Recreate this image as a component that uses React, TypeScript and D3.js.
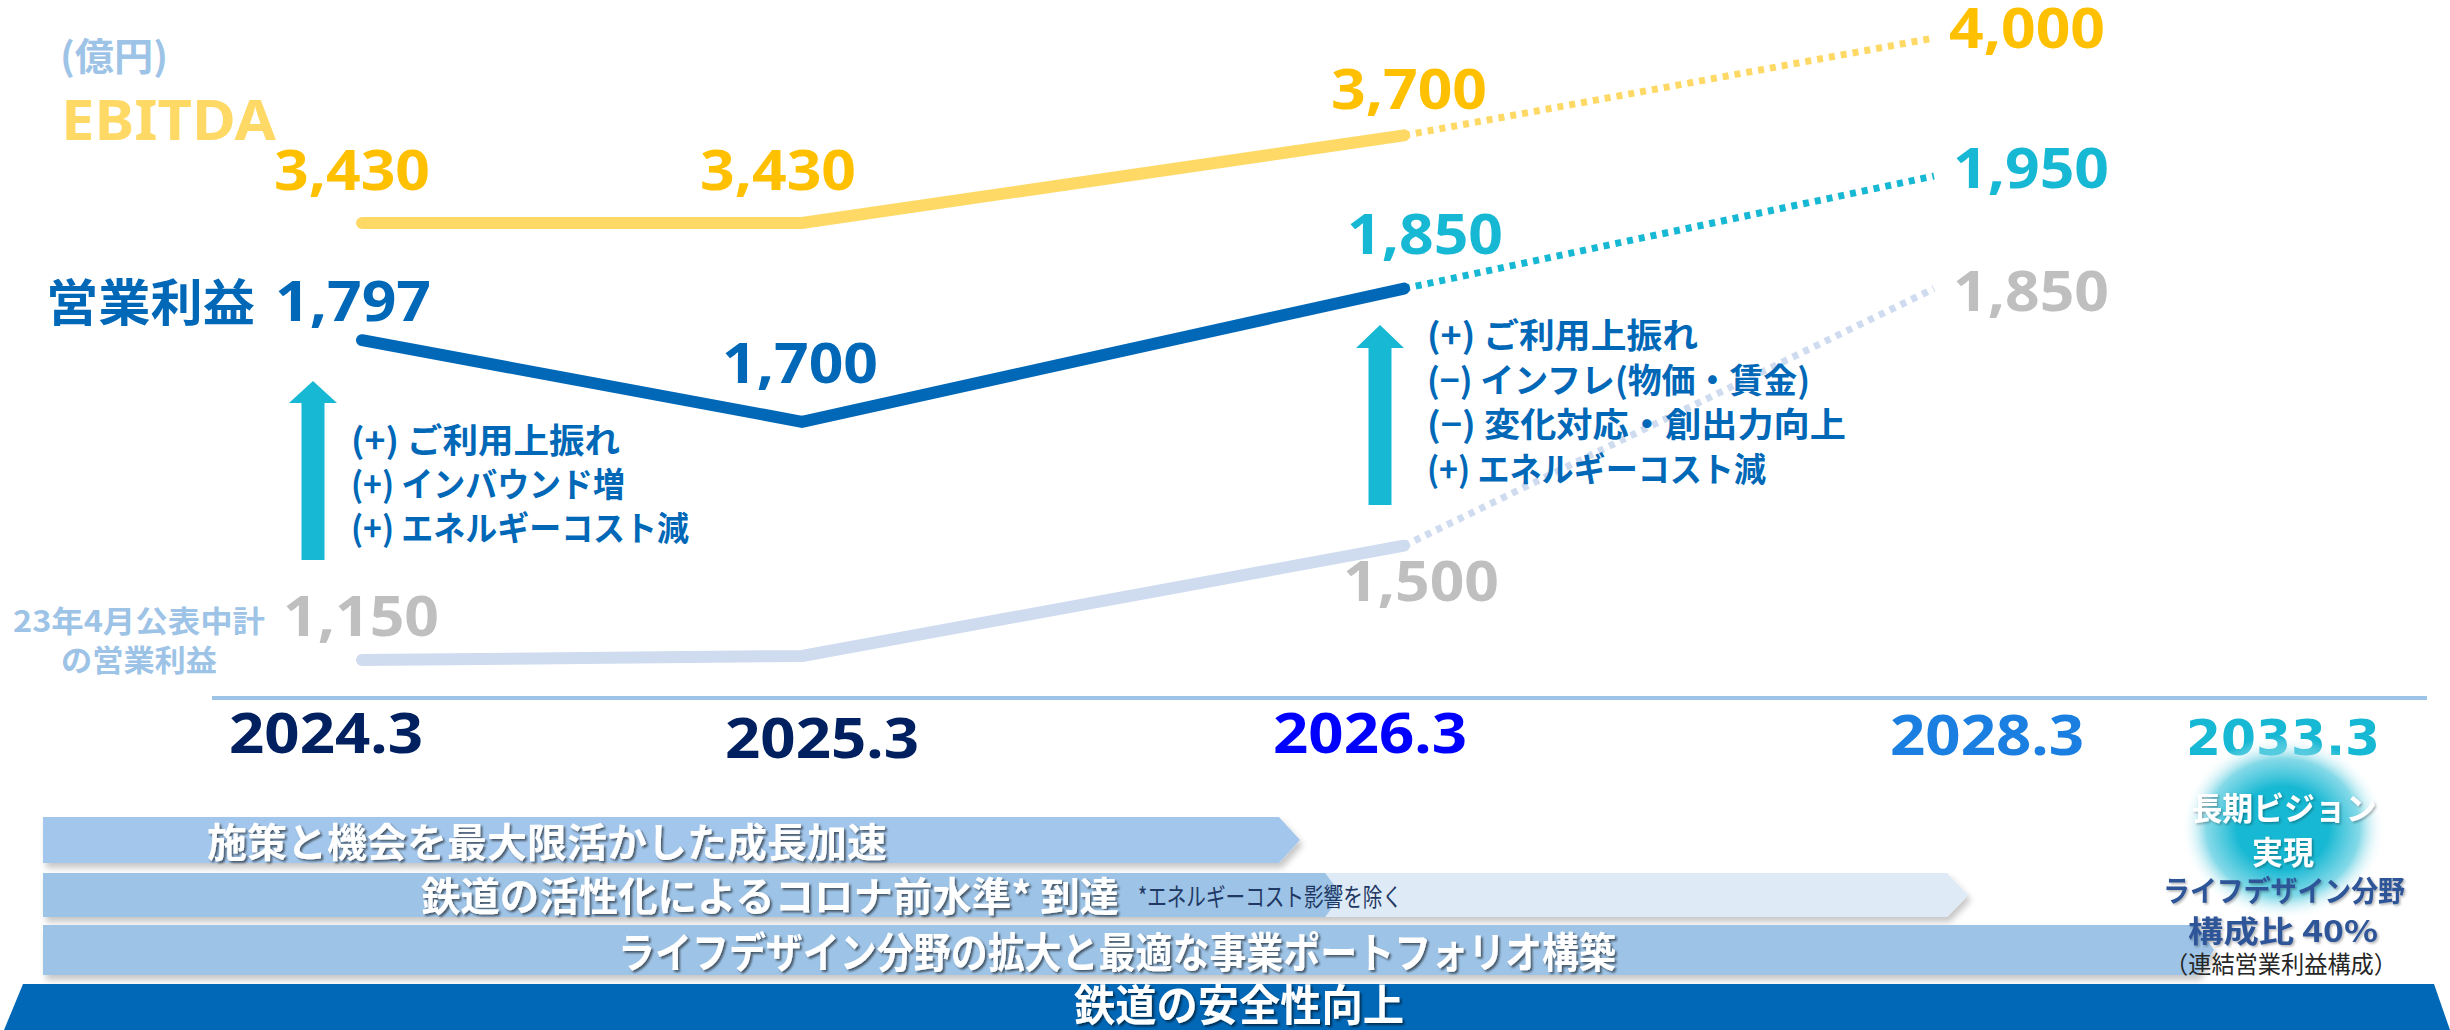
import React from "react";
import * as d3 from "d3";

// ---------- data ----------
const categories = ["2024.3", "2025.3", "2026.3", "2028.3", "2033.3"];
const ebitdaValues = [3430, 3430, 3700, 4000];
const operatingValues = [1797, 1700, 1850, 1950];
const planValues = [1150, 1170, 1500, 1850];
const planLabelled = [true, false, true, true];
const leftFactors = ["(+) ご利用上振れ", "(+) インバウンド増", "(+) エネルギーコスト減"];
const rightFactors = ["(+) ご利用上振れ", "(−) インフレ(物価・賃金)", "(−) 変化対応・創出力向上", "(+) エネルギーコスト減"];
const strategyTexts = [
  "施策と機会を最大限活かした成長加速",
  "鉄道の活性化によるコロナ前水準* 到達",
  "ライフデザイン分野の拡大と最適な事業ポートフォリオ構築",
  "鉄道の安全性向上",
];
const strategyNote = "*エネルギーコスト影響を除く";
const visionTexts = ["長期ビジョン", "実現", "ライフデザイン分野", "構成比  40%", "（連結営業利益構成）"];
const unitLabel = "(億円)";
const ebitdaName = "EBITDA";
const operatingName = "営業利益";
const planName = ["23年4月公表中計", "の営業利益"];

// ---------- styling ----------
const JP = "'Noto Sans CJK JP', 'Noto Sans', sans-serif";
const NUM = "'Noto Sans', 'DejaVu Sans', sans-serif";
const C = {
  ebitdaLine: "#FFD966",
  ebitdaText: "#FFC000",
  op: "#0068B7",
  cyan: "#17B8D3",
  planLine: "#CFDCEF",
  planText: "#BFBFBF",
  lightBlue: "#9DC3E6",
  navy: "#002060",
};

const W = 2450;
const H = 1030;

const fmt = d3.format(",");

export default function App() {
  const pointCats = categories.slice(0, 4);
  const x = d3.scaleOrdinal<string, number>().domain(pointCats).range([362, 802, 1404, 1934]);
  const xLabel = d3.scaleOrdinal<string, number>().domain(categories).range([326, 822, 1370, 1987, 2283]);
  const yE = d3.scaleLinear().domain([3430, 4000]).range([223, 38]);
  const yP = d3.scalePow().exponent(4.5).domain([1150, 1950]).range([660, 176]);

  const mk = (vals: number[], ys: (v: number) => number) =>
    vals.map((v, i) => [x(pointCats[i]) as number, ys(v)] as [number, number]);
  const line = d3.line();

  const eP = mk(ebitdaValues, yE);
  const oP = mk(operatingValues, yP);
  const pP = mk(planValues, yP);

  const axisColors = [C.navy, C.navy, "#0000FF", "#1A7FE0", C.cyan];
  const axisBase = [753, 758, 753, 755, 755];

  const eLab = [
    { dx: -10, dy: -33, a: "middle" },
    { dx: -24, dy: -33, a: "middle" },
    { dx: 5, dy: -26, a: "middle" },
    { dx: 15, dy: 10, a: "start" },
  ];
  const oLab = [
    { dx: 69, dy: -19, a: "end", c: C.op },
    { dx: -2, dy: -39, a: "middle", c: C.op },
    { dx: 21, dy: -35, a: "middle", c: C.cyan },
    { dx: 19, dy: 12, a: "start", c: C.cyan },
  ];
  const pLab = [
    { dx: -1, dy: -24, a: "middle" },
    { dx: 0, dy: 0, a: "middle" },
    { dx: 17, dy: 55, a: "middle" },
    { dx: 19, dy: 22, a: "start" },
  ];

  const numText = (key: string, px: number, py: number, v: number, anchor: string, color: string) => (
    <text
      key={key}
      x={px}
      y={py}
      textAnchor={anchor as any}
      fill={color}
      fontFamily={NUM}
      fontWeight={700}
      fontSize={56}
      textLength={156}
      lengthAdjust="spacingAndGlyphs"
    >
      {fmt(v)}
    </text>
  );

  const arrow = (cx: number, tip: number, headBase: number, bottom: number) => {
    const hw = 24, sw = 11.5;
    return `M${cx},${tip} L${cx + hw},${headBase} L${cx + sw},${headBase} L${cx + sw},${bottom} L${cx - sw},${bottom} L${cx - sw},${headBase} L${cx - hw},${headBase} Z`;
  };

  const leftW = [269, 274, 338];
  const rightW = [271, 383, 419, 339];

  return (
    <svg width={W} height={H} style={{ position: "absolute", left: 0, top: 0, background: "#fff" }}>
      <defs>
        <filter id="barShadow" x="-5%" y="-30%" width="110%" height="180%">
          <feDropShadow dx="3" dy="5" stdDeviation="3" floodColor="#000" floodOpacity="0.22" />
        </filter>
        <filter id="txtShadow" x="-5%" y="-30%" width="110%" height="180%">
          <feDropShadow dx="2" dy="2" stdDeviation="1" floodColor="#000" floodOpacity="0.55" />
        </filter>
        <filter id="softShadow" x="-5%" y="-30%" width="110%" height="180%">
          <feDropShadow dx="1.5" dy="1.5" stdDeviation="1" floodColor="#000" floodOpacity="0.3" />
        </filter>
        <radialGradient id="visionGrad" cx="50%" cy="50%" r="50%">
          <stop offset="0%" stopColor="#17B8D3" stopOpacity="1" />
          <stop offset="45%" stopColor="#17B8D3" stopOpacity="1" />
          <stop offset="75%" stopColor="#5ACCE0" stopOpacity="0.75" />
          <stop offset="100%" stopColor="#FFFFFF" stopOpacity="0" />
        </radialGradient>
      </defs>
      <rect width={W} height={H} fill="#fff" />

      {/* header labels */}
      <text x={60} y={70} fill={C.lightBlue} fontFamily={JP} fontWeight={700} fontSize={38} textLength={108} lengthAdjust="spacingAndGlyphs">{unitLabel}</text>
      <text x={61} y={140} fill={C.ebitdaLine} fontFamily={NUM} fontWeight={700} fontSize={55} textLength={215} lengthAdjust="spacingAndGlyphs">{ebitdaName}</text>

      {/* axis line */}
      <line x1={212} x2={2427} y1={698} y2={698} stroke={C.lightBlue} strokeWidth={4} />

      {/* plan line */}
      <path d={line(pP.slice(0, 3)) || ""} fill="none" stroke={C.planLine} strokeWidth={12} strokeLinecap="round" strokeLinejoin="round" />
      <path d={line(pP.slice(2)) || ""} fill="none" stroke={C.planLine} strokeWidth={7} strokeDasharray="6 6" />

      {/* EBITDA line */}
      <path d={line(eP.slice(0, 3)) || ""} fill="none" stroke={C.ebitdaLine} strokeWidth={12} strokeLinecap="round" strokeLinejoin="miter" />
      <path d={line(eP.slice(2)) || ""} fill="none" stroke={C.ebitdaLine} strokeWidth={7} strokeDasharray="6 6" />

      {/* operating profit line */}
      <path d={line(oP.slice(2)) || ""} fill="none" stroke={C.cyan} strokeWidth={7} strokeDasharray="6 6" />
      <path d={line(oP.slice(0, 3)) || ""} fill="none" stroke={C.op} strokeWidth={12} strokeLinecap="round" strokeLinejoin="miter" />

      {/* value labels */}
      {eP.map((p, i) => numText(`e${i}`, p[0] + eLab[i].dx, p[1] + eLab[i].dy, ebitdaValues[i], eLab[i].a, C.ebitdaText))}
      {oP.map((p, i) => numText(`o${i}`, p[0] + oLab[i].dx, p[1] + oLab[i].dy, operatingValues[i], oLab[i].a, oLab[i].c))}
      {pP.map((p, i) => (planLabelled[i] ? numText(`p${i}`, p[0] + pLab[i].dx, p[1] + pLab[i].dy, planValues[i], pLab[i].a, C.planText) : null))}

      {/* series names */}
      <text x={oP[0][0] + oLab[0].dx - 176} y={oP[0][1] + oLab[0].dy} textAnchor="end" fill={C.op} fontFamily={JP} fontWeight={700} fontSize={50} textLength={209} lengthAdjust="spacingAndGlyphs">{operatingName}</text>
      <text x={139} y={632} textAnchor="middle" fill={C.lightBlue} fontFamily={JP} fontWeight={700} fontSize={30} textLength={252} lengthAdjust="spacingAndGlyphs">{planName[0]}</text>
      <text x={139} y={671} textAnchor="middle" fill={C.lightBlue} fontFamily={JP} fontWeight={700} fontSize={30} textLength={156} lengthAdjust="spacingAndGlyphs">{planName[1]}</text>

      {/* arrows */}
      <path d={arrow(313, 381, 403, 560)} fill={C.cyan} />
      <path d={arrow(1380, 325, 348, 505)} fill={C.cyan} />

      {/* factor bullets */}
      {leftFactors.map((t, i) => (
        <text key={`lf${i}`} x={351} y={453 + i * 44} fill={C.op} fontFamily={JP} fontWeight={700} fontSize={34} textLength={leftW[i]} lengthAdjust="spacingAndGlyphs">{t}</text>
      ))}
      {rightFactors.map((t, i) => (
        <text key={`rf${i}`} x={1427} y={348 + i * 44.5} fill={C.op} fontFamily={JP} fontWeight={700} fontSize={34} textLength={rightW[i]} lengthAdjust="spacingAndGlyphs">{t}</text>
      ))}

      {/* axis labels */}
      {categories.map((c, i) => (
        <text
          key={`ax${i}`}
          x={xLabel(c)}
          y={axisBase[i]}
          textAnchor="middle"
          fill={axisColors[i]}
          fontFamily={i === 4 ? "'DejaVu Sans', sans-serif" : NUM}
          fontWeight={700}
          fontSize={i === 4 ? 50 : 56}
          textLength={194}
          lengthAdjust="spacingAndGlyphs"
        >
          {c}
        </text>
      ))}

      {/* strategy bars */}
      <g filter="url(#barShadow)">
        <path d="M43,817 H1279 L1300,840 L1279,863 H43 Z" fill="#A3C7EC" />
        <path d="M43,873 H1947 L1968,895 L1947,917 H43 Z" fill="#DEEBF7" />
        <path d="M43,873 H1325 L1342,895 L1325,917 H43 Z" fill={C.lightBlue} />
        <path d="M43,925 H2197 L2214,950 L2197,975 H43 Z" fill={C.lightBlue} />
      </g>
      <path d="M23,984 H2434 L2450,1030 H4 Z" fill={C.op} />

      <g filter="url(#txtShadow)" fill="#fff" fontFamily={JP} fontWeight={700}>
        <text x={207} y={857} fontSize={40} textLength={680} lengthAdjust="spacingAndGlyphs">{strategyTexts[0]}</text>
        <text x={421} y={911} fontSize={40} textLength={698} lengthAdjust="spacingAndGlyphs">{strategyTexts[1]}</text>
        <text x={618} y={968} fontSize={42} textLength={998} lengthAdjust="spacingAndGlyphs">{strategyTexts[2]}</text>
        <text x={1074} y={1021} fontSize={43} textLength={330} lengthAdjust="spacingAndGlyphs">{strategyTexts[3]}</text>
      </g>
      <text x={1138} y={906} fill="#1F3864" fontFamily={JP} fontSize={25} textLength={264} lengthAdjust="spacingAndGlyphs">{strategyNote}</text>

      {/* vision circle */}
      <ellipse cx={2283} cy={828} rx={102} ry={92} fill="url(#visionGrad)" />
      <g fontFamily={JP} fontWeight={700} textAnchor="middle">
        <text x={2284} y={820} fill="#fff" fontSize={32} textLength={185} lengthAdjust="spacingAndGlyphs" filter="url(#softShadow)">{visionTexts[0]}</text>
        <text x={2283} y={864} fill="#fff" fontSize={32} textLength={62} lengthAdjust="spacingAndGlyphs" filter="url(#softShadow)">{visionTexts[1]}</text>
        <text x={2284} y={902} fill="#2F5597" fontSize={29} textLength={242} lengthAdjust="spacingAndGlyphs" filter="url(#softShadow)">{visionTexts[2]}</text>
        <text x={2283} y={942} fill="#2F5597" fontSize={30} textLength={190} lengthAdjust="spacingAndGlyphs" filter="url(#softShadow)">{visionTexts[3]}</text>
        <text x={2281} y={973} fill="#262626" fontWeight={400} fontSize={24} textLength={232} lengthAdjust="spacingAndGlyphs">{visionTexts[4]}</text>
      </g>
    </svg>
  );
}
